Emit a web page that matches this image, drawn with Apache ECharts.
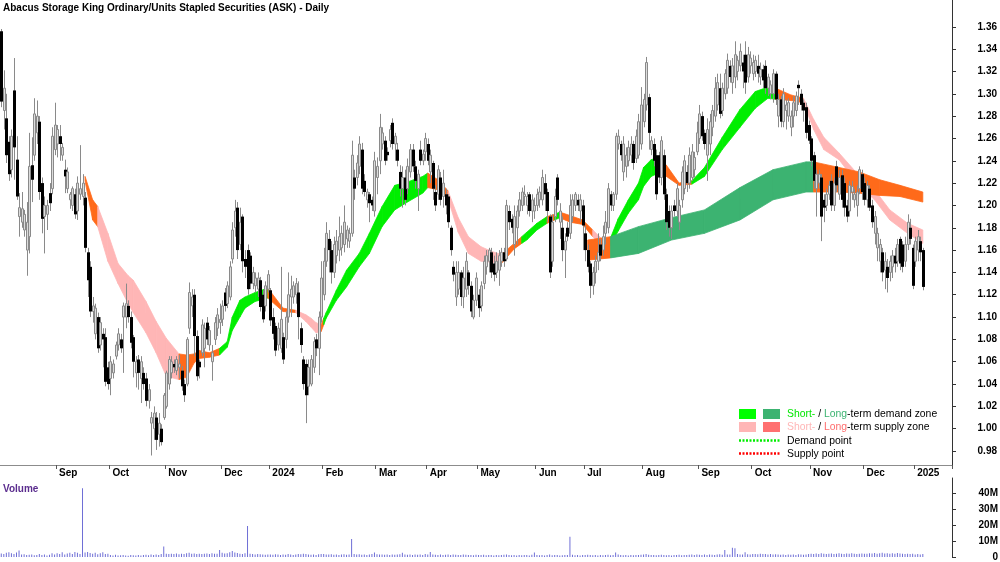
<!DOCTYPE html>
<html lang="en">
<head>
<meta charset="UTF-8">
<title>ASK - Daily</title>
<script src="https://cdn.jsdelivr.net/npm/echarts@6/dist/echarts.min.js"></script>
<style>
  html, body { margin: 0; padding: 0; background: #fff; }
  #target { width: 1000px; height: 562px; }
</style>
</head>
<body>
<div id="target"></div>
<script>
// daily bars, one array per month: [open, close, low, high]
const aug23 = [
  [1.356,1.293,1.288,1.358],[1.285,1.305,1.268,1.321],[1.278,1.245,1.238,1.300],[1.257,1.228,1.222,1.262],
  [1.232,1.262,1.225,1.268],[1.303,1.252,1.223,1.332],[1.241,1.208,1.205,1.262],[1.190,1.198,1.172,1.211],
  [1.185,1.197,1.180,1.212],[1.178,1.192,1.172,1.196],[1.160,1.185,1.137,1.203],[1.172,1.235,1.157,1.265],
  [1.236,1.223,1.203,1.261],[1.245,1.282,1.240,1.296],[1.265,1.280,1.255,1.294],[1.275,1.212,1.205,1.280],
  [1.220,1.188,1.175,1.225],[1.190,1.200,1.157,1.208],[1.192,1.200,1.178,1.205],[1.211,1.202,1.195,1.220],
  [1.215,1.262,1.210,1.270],[1.250,1.272,1.245,1.292]
];
const sep23 = [
  [1.255,1.268,1.243,1.272],[1.262,1.255,1.240,1.272],[1.245,1.252,1.240,1.256],[1.232,1.226,1.211,1.241],
  [1.215,1.230,1.211,1.234],[1.205,1.210,1.197,1.212],[1.200,1.215,1.195,1.217],[1.210,1.192,1.188,1.215],
  [1.195,1.220,1.187,1.226],[1.210,1.215,1.205,1.254],[1.208,1.220,1.200,1.228],[1.207,1.162,1.158,1.212],
  [1.158,1.133,1.118,1.162],[1.145,1.105,1.100,1.150],[1.105,1.110,1.095,1.118],[1.085,1.108,1.080,1.112],
  [1.100,1.072,1.068,1.104],[1.075,1.095,1.070,1.100],[1.085,1.080,1.055,1.090],[1.082,1.042,1.038,1.090],
  [1.055,1.040,1.035,1.060]
];
const oct23 = [
  [1.045,1.060,1.030,1.065],[1.050,1.058,1.045,1.062],[1.065,1.075,1.062,1.078],[1.075,1.085,1.070,1.090],
  [1.080,1.072,1.068,1.085],[1.100,1.110,1.050,1.113],[1.100,1.112,1.090,1.130],[1.110,1.100,1.095,1.115],
  [1.100,1.077,1.072,1.105],[1.082,1.060,1.046,1.084],[1.050,1.060,1.037,1.065],[1.062,1.050,1.035,1.066],
  [1.045,1.060,1.023,1.065],[1.050,1.040,1.035,1.055],[1.045,1.025,1.020,1.050],[1.025,1.035,1.018,1.040],
  [1.005,1.010,0.976,1.015],[1.000,1.014,0.990,1.020],[1.010,0.990,0.981,1.015],[0.995,1.005,0.984,1.014],
  [1.000,0.988,0.985,1.004],[1.010,1.030,1.008,1.032]
];
const nov23 = [
  [1.020,1.050,1.018,1.052],[1.040,1.062,1.035,1.065],[1.050,1.060,1.045,1.065],[1.058,1.055,1.050,1.062],
  [1.052,1.062,1.048,1.065],[1.055,1.058,1.045,1.066],[1.052,1.038,1.034,1.056],[1.040,1.030,1.024,1.044],
  [1.040,1.080,1.038,1.082],[1.090,1.122,1.085,1.131],[1.110,1.118,1.100,1.125],[1.120,1.083,1.065,1.125],
  [1.083,1.047,1.043,1.088],[1.060,1.055,1.045,1.062],[1.068,1.093,1.065,1.098],[1.072,1.090,1.055,1.095],
  [1.095,1.080,1.075,1.100],[1.075,1.088,1.070,1.092],[1.060,1.068,1.043,1.075],[1.080,1.095,1.075,1.100],
  [1.090,1.102,1.083,1.108],[1.095,1.098,1.085,1.112]
];
const dec23 = [
  [1.098,1.110,1.092,1.115],[1.122,1.110,1.105,1.126],[1.112,1.128,1.108,1.132],[1.118,1.145,1.115,1.150],
  [1.152,1.178,1.148,1.185],[1.180,1.195,1.172,1.205],[1.198,1.160,1.152,1.203],[1.165,1.185,1.160,1.198],
  [1.190,1.150,1.140,1.192],[1.152,1.145,1.135,1.160],[1.160,1.125,1.120,1.165],[1.155,1.130,1.125,1.158],
  [1.130,1.140,1.125,1.145],[1.128,1.135,1.122,1.140],[1.125,1.135,1.118,1.140],[1.133,1.109,1.105,1.136],
  [1.120,1.098,1.095,1.124],[1.110,1.128,1.105,1.132],[1.125,1.138,1.122,1.142]
];
const jan24 = [
  [1.124,1.097,1.092,1.126],[1.100,1.085,1.080,1.108],[1.092,1.070,1.065,1.095],[1.075,1.090,1.070,1.095],
  [1.072,1.098,1.068,1.145],[1.082,1.062,1.058,1.086],[1.080,1.100,1.072,1.105],[1.100,1.120,1.095,1.140],
  [1.118,1.125,1.100,1.137],[1.118,1.128,1.112,1.132],[1.120,1.130,1.112,1.135],[1.122,1.100,1.080,1.132],
  [1.090,1.075,1.068,1.095],[1.062,1.040,1.035,1.065],[1.058,1.030,1.005,1.062],[1.038,1.055,1.030,1.062],
  [1.040,1.062,1.038,1.066],[1.055,1.078,1.050,1.082],[1.080,1.072,1.065,1.085],[1.072,1.100,1.048,1.105],
  [1.100,1.135,1.095,1.150]
];
const feb24 = [
  [1.120,1.150,1.115,1.162],[1.150,1.175,1.145,1.185],[1.170,1.160,1.140,1.178],[1.160,1.140,1.130,1.168],
  [1.140,1.165,1.135,1.172],[1.155,1.168,1.148,1.178],[1.160,1.172,1.150,1.190],[1.162,1.175,1.155,1.182],
  [1.165,1.185,1.158,1.200],[1.170,1.178,1.162,1.182],[1.168,1.175,1.162,1.180],[1.175,1.245,1.172,1.258],
  [1.225,1.215,1.205,1.232],[1.225,1.238,1.218,1.245],[1.235,1.255,1.228,1.262],[1.250,1.215,1.210,1.256],
  [1.222,1.212,1.208,1.228],[1.205,1.212,1.198,1.215],[1.210,1.202,1.185,1.212],[1.205,1.200,1.195,1.208],
  [1.195,1.240,1.190,1.248]
];
const mar24 = [
  [1.225,1.235,1.210,1.243],[1.240,1.270,1.228,1.282],[1.255,1.265,1.250,1.270],[1.258,1.240,1.236,1.262],
  [1.248,1.245,1.240,1.252],[1.258,1.268,1.252,1.272],[1.274,1.255,1.250,1.278],[1.255,1.262,1.240,1.265],
  [1.250,1.240,1.235,1.256],[1.230,1.215,1.208,1.236],[1.215,1.225,1.198,1.235],[1.225,1.205,1.200,1.232],
  [1.215,1.235,1.210,1.242],[1.230,1.250,1.225,1.255],[1.250,1.235,1.230,1.255],[1.235,1.222,1.215,1.240],
  [1.215,1.228,1.195,1.232],[1.250,1.240,1.236,1.258],[1.240,1.246,1.236,1.250],[1.248,1.260,1.240,1.265]
];
const apr24 = [
  [1.255,1.240,1.236,1.260],[1.230,1.245,1.220,1.250],[1.238,1.215,1.205,1.240],[1.212,1.200,1.195,1.218],
  [1.210,1.232,1.205,1.236],[1.225,1.205,1.200,1.230],[1.208,1.220,1.198,1.232],[1.210,1.200,1.192,1.215],
  [1.208,1.185,1.180,1.210],[1.180,1.160,1.155,1.182],[1.145,1.138,1.132,1.150],[1.118,1.140,1.110,1.150],
  [1.125,1.140,1.120,1.150],[1.140,1.118,1.110,1.142],[1.118,1.135,1.108,1.145],[1.125,1.150,1.118,1.158],
  [1.140,1.128,1.120,1.142],[1.128,1.105,1.100,1.132],[1.100,1.115,1.098,1.120],[1.115,1.135,1.110,1.140]
];
const may24 = [
  [1.120,1.108,1.100,1.125],[1.110,1.128,1.105,1.132],[1.130,1.150,1.125,1.155],[1.145,1.155,1.138,1.160],
  [1.150,1.160,1.140,1.162],[1.158,1.140,1.135,1.162],[1.148,1.138,1.132,1.155],[1.140,1.150,1.135,1.158],
  [1.142,1.155,1.128,1.160],[1.150,1.158,1.145,1.162],[1.158,1.150,1.145,1.162],[1.152,1.200,1.150,1.205],
  [1.195,1.185,1.178,1.200],[1.188,1.180,1.175,1.192],[1.165,1.190,1.155,1.200],[1.180,1.195,1.165,1.200],
  [1.195,1.205,1.190,1.212],[1.200,1.212,1.195,1.216],[1.208,1.210,1.200,1.218],[1.200,1.208,1.192,1.212],
  [1.210,1.195,1.190,1.212],[1.195,1.205,1.185,1.210],[1.195,1.200,1.188,1.207]
];
const jun24 = [
  [1.200,1.210,1.195,1.215],[1.205,1.212,1.198,1.217],[1.205,1.225,1.200,1.232],[1.220,1.210,1.195,1.228],
  [1.212,1.195,1.185,1.215],[1.190,1.140,1.135,1.192],[1.150,1.185,1.145,1.192],[1.190,1.208,1.185,1.215],
  [1.225,1.205,1.200,1.228],[1.185,1.195,1.170,1.202],[1.180,1.160,1.150,1.190],[1.160,1.168,1.135,1.175],
  [1.180,1.172,1.168,1.185],[1.175,1.200,1.170,1.210],[1.190,1.205,1.185,1.210],[1.200,1.210,1.195,1.212],
  [1.205,1.200,1.195,1.210],[1.195,1.205,1.185,1.210],[1.200,1.182,1.160,1.205]
];
const jul24 = [
  [1.175,1.160,1.150,1.182],[1.160,1.145,1.140,1.165],[1.148,1.128,1.117,1.150],[1.128,1.140,1.120,1.145],
  [1.140,1.150,1.130,1.155],[1.150,1.158,1.142,1.175],[1.165,1.155,1.150,1.170],[1.160,1.172,1.155,1.182],
  [1.175,1.185,1.165,1.195],[1.180,1.215,1.175,1.220],[1.210,1.200,1.195,1.213],[1.200,1.210,1.195,1.212],
  [1.210,1.262,1.205,1.265],[1.255,1.262,1.250,1.268],[1.255,1.245,1.240,1.258],[1.230,1.255,1.222,1.262],
  [1.235,1.245,1.225,1.252],[1.240,1.252,1.235,1.258],[1.245,1.255,1.238,1.262],[1.255,1.238,1.232,1.258],
  [1.242,1.262,1.238,1.268],[1.245,1.275,1.242,1.282],[1.255,1.290,1.250,1.306]
];
const aug24 = [
  [1.275,1.295,1.270,1.300],[1.290,1.328,1.285,1.333],[1.297,1.265,1.250,1.300],[1.250,1.258,1.245,1.262],
  [1.255,1.240,1.235,1.260],[1.245,1.210,1.205,1.250],[1.245,1.225,1.220,1.248],[1.225,1.258,1.218,1.262],
  [1.245,1.210,1.205,1.250],[1.210,1.185,1.178,1.215],[1.195,1.180,1.172,1.200],[1.180,1.195,1.170,1.200],
  [1.200,1.195,1.190,1.205],[1.195,1.215,1.190,1.220],[1.185,1.200,1.178,1.205],[1.205,1.230,1.198,1.235],
  [1.215,1.240,1.210,1.245],[1.230,1.220,1.212,1.236],[1.220,1.245,1.215,1.252],[1.225,1.248,1.222,1.255],
  [1.232,1.243,1.225,1.248],[1.248,1.265,1.245,1.275]
];
const sep24 = [
  [1.260,1.282,1.255,1.290],[1.280,1.262,1.258,1.284],[1.265,1.255,1.250,1.268],[1.245,1.268,1.222,1.278],
  [1.255,1.275,1.245,1.282],[1.270,1.285,1.262,1.290],[1.280,1.305,1.275,1.315],[1.290,1.310,1.285,1.318],
  [1.305,1.282,1.278,1.318],[1.285,1.305,1.280,1.310],[1.300,1.318,1.295,1.322],[1.305,1.330,1.300,1.336],
  [1.325,1.315,1.310,1.330],[1.310,1.325,1.300,1.332],[1.315,1.335,1.305,1.347],[1.320,1.330,1.312,1.334],
  [1.325,1.338,1.320,1.345],[1.328,1.320,1.305,1.335],[1.335,1.310,1.300,1.347],[1.315,1.335,1.310,1.342],
  [1.325,1.332,1.318,1.338]
];
const oct24 = [
  [1.318,1.328,1.312,1.335],[1.320,1.330,1.315,1.334],[1.325,1.318,1.310,1.335],[1.315,1.322,1.308,1.328],
  [1.322,1.312,1.305,1.326],[1.325,1.305,1.300,1.330],[1.305,1.315,1.298,1.318],[1.300,1.308,1.295,1.312],
  [1.300,1.318,1.292,1.322],[1.318,1.295,1.290,1.320],[1.280,1.295,1.270,1.300],[1.295,1.275,1.270,1.298],
  [1.275,1.300,1.270,1.305],[1.285,1.290,1.268,1.295],[1.280,1.292,1.275,1.296],[1.270,1.280,1.262,1.285],
  [1.280,1.292,1.270,1.298],[1.285,1.298,1.280,1.302],[1.308,1.305,1.290,1.312],[1.300,1.290,1.285,1.304],
  [1.292,1.285,1.275,1.295],[1.288,1.265,1.260,1.292],[1.272,1.258,1.255,1.276]
];
const nov24 = [
  [1.260,1.240,1.235,1.262],[1.245,1.222,1.215,1.248],[1.215,1.228,1.190,1.232],[1.220,1.228,1.215,1.232],
  [1.225,1.190,1.168,1.228],[1.205,1.198,1.185,1.210],[1.200,1.210,1.195,1.215],[1.210,1.218,1.205,1.222],
  [1.222,1.200,1.195,1.228],[1.200,1.220,1.195,1.225],[1.235,1.218,1.212,1.240],[1.210,1.225,1.205,1.232],
  [1.227,1.205,1.198,1.232],[1.220,1.198,1.190,1.225],[1.200,1.190,1.185,1.205],[1.195,1.218,1.190,1.222],
  [1.212,1.217,1.205,1.222],[1.205,1.210,1.198,1.215],[1.200,1.212,1.190,1.218],[1.215,1.232,1.210,1.235],
  [1.228,1.212,1.205,1.232]
];
const dec24 = [
  [1.220,1.205,1.200,1.225],[1.205,1.218,1.198,1.222],[1.215,1.198,1.195,1.218],[1.200,1.185,1.180,1.205],
  [1.175,1.190,1.165,1.195],[1.162,1.175,1.150,1.180],[1.150,1.165,1.140,1.170],[1.158,1.140,1.132,1.162],
  [1.142,1.150,1.125,1.158],[1.145,1.135,1.122,1.152],[1.140,1.150,1.132,1.155],[1.145,1.155,1.135,1.160],
  [1.155,1.148,1.140,1.162],[1.150,1.165,1.145,1.170],[1.170,1.148,1.142,1.172],[1.165,1.145,1.140,1.168],
  [1.150,1.165,1.145,1.172],[1.165,1.185,1.160,1.192],[1.180,1.170,1.165,1.188],[1.162,1.128,1.125,1.165]
];
const jan25 = [
  [1.150,1.168,1.145,1.172],[1.160,1.172,1.150,1.178],[1.168,1.158,1.150,1.172],[1.160,1.127,1.124,1.162]
];

// daily volume, millions
const volume = [
  2.2,1.8,2.6,3.0,2.4,1.9,2.8,4.1,1.5,1.7,1.2,1.4,1.6,1.1,1.3,1.8,1.2,1.5,1.0,1.4,2.3,1.6,
  2.4,1.8,2.9,1.6,2.2,2.6,1.9,3.1,2.7,1.8,43.0,2.8,3.2,2.5,2.0,2.6,1.7,2.4,2.9,1.9,2.1,
  1.2,1.0,1.4,0.9,1.1,1.3,1.0,0.8,1.2,1.1,0.9,1.3,1.0,1.2,1.4,1.1,1.6,1.3,1.5,1.2,1.8,6.5,
  2.0,1.8,2.1,1.9,2.2,1.7,2.0,1.8,2.3,2.6,2.0,2.2,1.9,2.1,1.8,2.0,2.2,1.9,2.4,2.1,2.0,4.3,
  2.6,2.2,2.4,3.0,3.7,2.8,2.5,2.1,1.9,2.3,19.4,2.0,1.8,1.6,1.9,1.7,1.5,1.4,1.6,
  1.6,1.4,1.7,1.5,1.3,1.6,1.4,1.8,1.5,1.2,1.6,1.9,1.7,2.1,1.8,1.5,1.4,1.6,1.3,1.7,1.9,
  1.8,1.6,1.5,1.7,1.4,1.6,1.3,1.5,1.7,1.4,1.6,11.3,1.9,1.5,1.7,1.4,1.6,1.3,1.5,1.8,2.8,
  1.7,1.5,1.6,1.4,1.5,1.3,1.6,1.4,1.5,1.7,2.6,1.5,1.4,1.6,1.3,1.5,1.4,1.6,1.2,1.8,
  1.6,3.2,1.5,1.4,1.3,1.5,1.2,1.4,1.6,1.3,1.5,1.4,1.2,1.3,1.5,1.4,1.2,1.3,1.1,1.4,
  1.3,1.2,1.4,1.1,1.3,1.2,1.0,1.3,1.1,1.2,1.4,1.6,1.2,1.1,1.3,1.0,1.2,1.1,1.3,1.2,1.0,1.4,2.8,
  1.3,1.1,1.2,1.0,1.2,1.5,1.1,1.3,1.2,1.0,1.1,1.3,1.2,12.7,1.4,1.1,1.2,1.0,1.3,
  1.2,1.4,1.3,1.1,1.2,1.0,1.3,1.1,1.2,1.4,1.1,1.3,2.8,1.5,1.2,1.1,1.3,1.0,1.2,1.1,1.3,1.2,1.4,
  1.5,1.8,1.4,1.2,1.3,1.1,1.2,1.4,1.3,1.1,1.2,1.0,1.3,1.2,1.4,1.1,1.3,1.2,1.4,1.5,1.3,1.6,
  1.4,1.3,1.5,1.2,1.6,1.4,1.3,1.5,1.7,1.4,4.4,1.6,1.5,5.8,5.5,1.8,1.6,1.5,3.0,1.7,1.6,
  1.8,1.9,1.7,2.0,1.8,1.9,1.6,1.8,1.5,1.7,1.6,1.4,1.5,1.3,1.6,1.4,1.5,1.3,1.7,1.5,1.4,1.6,1.8,
  2.0,1.8,2.2,1.9,2.3,2.1,1.8,2.0,2.2,1.9,2.1,2.4,2.0,1.9,2.2,2.0,2.3,2.1,1.9,2.0,2.2,
  2.1,2.0,2.3,2.2,2.5,2.1,2.4,2.6,2.2,2.3,2.0,2.4,2.1,2.5,2.2,2.0,1.8,2.1,1.9,2.0,
  1.6,1.8,1.5,1.9
];

// short-term zone: bar index, lower edge, upper edge, zone of the stretch that follows
const shortIdx  = [33, 36, 38, 42, 46, 50, 52, 57, 61, 65, 70, 73, 76, 78, 82, 86, 89, 91, 94, 96, 100, 105, 111, 116, 120, 122, 124, 126, 127, 128, 132, 136, 141, 145, 150, 155, 160, 166, 168, 172, 176, 180, 184, 189, 193, 197, 202, 205, 207, 211, 215, 218, 220, 224, 229, 233, 237, 240, 243, 247, 251, 253, 256, 259, 262, 267, 272, 277, 284, 291, 297, 302, 305, 311, 316, 320, 324, 330, 337, 344, 350, 357, 363];
const shortLo   = [1.222, 1.187, 1.181, 1.150, 1.130, 1.112, 1.104, 1.086, 1.068, 1.047, 1.044, 1.046, 1.059, 1.063, 1.064, 1.066, 1.073, 1.088, 1.100, 1.108, 1.114, 1.117, 1.105, 1.104, 1.096, 1.091, 1.086, 1.087, 1.093, 1.099, 1.115, 1.127, 1.145, 1.157, 1.181, 1.196, 1.203, 1.211, 1.216, 1.214, 1.206, 1.176, 1.157, 1.150, 1.149, 1.148, 1.161, 1.166, 1.169, 1.178, 1.184, 1.187, 1.189, 1.185, 1.183, 1.172, 1.163, 1.164, 1.177, 1.193, 1.205, 1.217, 1.226, 1.229, 1.226, 1.218, 1.219, 1.226, 1.250, 1.270, 1.287, 1.296, 1.295, 1.294, 1.292, 1.268, 1.250, 1.241, 1.220, 1.205, 1.187, 1.175, 1.166];
const shortHi   = [1.226, 1.205, 1.199, 1.175, 1.148, 1.137, 1.133, 1.114, 1.096, 1.081, 1.067, 1.066, 1.067, 1.070, 1.068, 1.072, 1.078, 1.100, 1.115, 1.118, 1.122, 1.126, 1.108, 1.106, 1.102, 1.099, 1.095, 1.093, 1.099, 1.104, 1.124, 1.142, 1.157, 1.175, 1.199, 1.218, 1.221, 1.226, 1.229, 1.223, 1.213, 1.189, 1.172, 1.163, 1.159, 1.156, 1.166, 1.172, 1.176, 1.184, 1.190, 1.192, 1.194, 1.191, 1.187, 1.178, 1.169, 1.171, 1.188, 1.205, 1.220, 1.234, 1.241, 1.243, 1.236, 1.220, 1.222, 1.234, 1.261, 1.286, 1.302, 1.306, 1.305, 1.299, 1.296, 1.277, 1.261, 1.247, 1.229, 1.214, 1.196, 1.184, 1.178];
const shortZone = ['o','o','p','p','p','p','p','p','p','p','o','o','o','o','o','g','g','g','g','g','g','o','o','p','p','p','p','o','g','g','g','g','g','g','g','g','g','g','o','o','p','p','p','p','p','o','o','g','g','g','o','g','o','o','o','p','p','g','g','g','g','g','g','o','o','o','g','g','g','g','g','g','o','o','p','p','p','p','p','p','p','p',''];

// long-term zone
const longIdx  = [231, 240, 251, 264, 277, 291, 304, 317, 320, 330, 338, 346, 354, 363];
const longLo   = [1.151, 1.153, 1.157, 1.169, 1.175, 1.187, 1.205, 1.212, 1.212, 1.212, 1.211, 1.209, 1.208, 1.203];
const longHi   = [1.169, 1.172, 1.181, 1.189, 1.196, 1.216, 1.232, 1.239, 1.239, 1.234, 1.230, 1.223, 1.218, 1.212];
const longZone = ['o','d','d','d','d','d','d','d','o','o','o','o','o',''];

const priceTicks = [0.98, 1.00, 1.02, 1.04, 1.06, 1.08, 1.10, 1.12, 1.14, 1.16, 1.18, 1.20, 1.22, 1.24, 1.26, 1.28, 1.30, 1.32, 1.34, 1.36];
const volumeTicks = [0, 10, 20, 30, 40];
const monthNames = ['Jan','Feb','Mar','Apr','May','Jun','Jul','Aug','Sep','Oct','Nov','Dec'];
const holidays = ['2023-12-25','2023-12-26','2024-01-01','2024-01-26','2024-03-29','2024-04-01','2024-04-25','2024-06-10','2024-12-25','2024-12-26','2025-01-01'];

const zoneColors = { g: '#00ee00', d: '#3cb371', p: '#ffb6b6', o: '#ff6a1a' };
const FONT = '"Liberation Sans", Arial, sans-serif';

const ohlc = [].concat(aug23, sep23, oct23, nov23, dec23, jan24, feb24, mar24, apr24,
  may24, jun24, jul24, aug24, sep24, oct24, nov24, dec24, jan25);

// trading days from 2 Aug 2023
const dates = [];
const day = new Date(Date.UTC(2023, 7, 2));
while (dates.length < ohlc.length) {
  const s = day.toISOString().slice(0, 10);
  const wd = day.getUTCDay();
  if (wd !== 0 && wd !== 6 && holidays.indexOf(s) < 0) dates.push(s);
  day.setUTCDate(day.getUTCDate() + 1);
}
const cats = dates.slice();
for (let k = 0; k < 11; k++) cats.push('pad' + k);   // empty room right of the last bar

const monthStart = new Set();
for (let i = 1; i < dates.length; i++) {
  if (dates[i].slice(5, 7) !== dates[i - 1].slice(5, 7)) monthStart.add(i);
}
const isMonthStart = (index) => monthStart.has(index);

function renderCandle(params, api) {
  const i = api.value(0);
  const o = api.value(1), c = api.value(2), l = api.value(3), h = api.value(4);
  const pH = api.coord([i, h]);
  const pL = api.coord([i, l]);
  const pO = api.coord([i, o]);
  const pC = api.coord([i, c]);
  const cx = Math.round(pH[0]);
  const y1 = Math.min(pO[1], pC[1]);
  const y2 = Math.max(pO[1], pC[1]);
  const up = c >= o;
  const body = up
    ? { type: 'rect', shape: { x: cx - 0.5, y: y1, width: 2, height: Math.max(y2 - y1, 1) },
        style: { fill: '#dcdcdc', stroke: '#8a8a8a', lineWidth: 1 } }
    : { type: 'rect', shape: { x: cx - 1, y: y1, width: 3, height: Math.max(y2 - y1, 1) },
        style: { fill: '#000' } };
  return {
    type: 'group',
    children: [
      { type: 'line', shape: { x1: cx + 0.5, y1: pH[1], x2: cx + 0.5, y2: pL[1] },
        style: { stroke: '#8a8a8a', lineWidth: 1 } },
      body
    ]
  };
}

function bandData(idx, lo, hi) {
  const out = [];
  for (let k = 0; k < idx.length - 1; k++) {
    out.push([idx[k], lo[k], hi[k], idx[k + 1], lo[k + 1], hi[k + 1]]);
  }
  return out;
}

function bandRenderer(zone) {
  return function (params, api) {
    const col = zoneColors[zone[params.dataIndex]];
    const a0 = api.coord([api.value(0), api.value(1)]);
    const b0 = api.coord([api.value(0), api.value(2)]);
    const b1 = api.coord([api.value(3), api.value(5)]);
    const a1 = api.coord([api.value(3), api.value(4)]);
    return {
      type: 'polygon',
      shape: { points: [a0, b0, b1, a1] },
      style: { fill: col, stroke: col, lineWidth: 0.8 }
    };
  };
}

const legendRows = [
  { y: 414, text: '{a|Short-} / {b|Long}-term demand zone', a: '#00e600', b: '#3cb371' },
  { y: 427, text: '{a|Short-} / {b|Long}-term supply zone', a: '#ffb6b6', b: '#ff6e6e' }
];

const graphics = [
  { type: 'text', x: 3, y: 8, style: { text: 'Abacus Storage King Ordinary/Units Stapled Securities (ASK) - Daily',
      font: 'bold 10px ' + FONT, fill: '#000', verticalAlign: 'middle' } },
  { type: 'text', x: 3, y: 489.5, style: { text: 'Volume', font: 'bold 10px ' + FONT,
      fill: '#5b2d8e', verticalAlign: 'middle' } },
  { type: 'rect', shape: { x: 739, y: 409, width: 17, height: 10 }, style: { fill: '#00ff00' } },
  { type: 'rect', shape: { x: 763, y: 409, width: 17, height: 10 }, style: { fill: '#3cb371' } },
  { type: 'rect', shape: { x: 739, y: 422, width: 17, height: 10 }, style: { fill: '#ffb6b6' } },
  { type: 'rect', shape: { x: 763, y: 422, width: 17, height: 10 }, style: { fill: '#ff7070' } },
  { type: 'line', shape: { x1: 739, y1: 440.5, x2: 781, y2: 440.5 },
    style: { stroke: '#00ee00', lineWidth: 2.5, lineDash: [2, 1.5] } },
  { type: 'line', shape: { x1: 739, y1: 453.5, x2: 781, y2: 453.5 },
    style: { stroke: '#ff0000', lineWidth: 2.5, lineDash: [2, 1.5] } },
  { type: 'text', x: 787, y: 441, style: { text: 'Demand point', font: '10.4px ' + FONT, fill: '#000', verticalAlign: 'middle' } },
  { type: 'text', x: 787, y: 454, style: { text: 'Supply point', font: '10.4px ' + FONT, fill: '#000', verticalAlign: 'middle' } }
];
legendRows.forEach(r => {
  graphics.push({ type: 'text', x: 787, y: r.y, style: {
    text: r.text, fontSize: 10.4, fontFamily: FONT, fill: '#000', verticalAlign: 'middle',
    rich: { a: { fill: r.a, fontSize: 10.4, fontFamily: FONT }, b: { fill: r.b, fontSize: 10.4, fontFamily: FONT } }
  } });
});

const option = {
  animation: false,
  backgroundColor: '#fff',
  grid: [
    { left: 0, right: 48, top: 0, height: 465, outerBoundsMode: 'none', containLabel: false },
    { left: 0, right: 48, top: 478, height: 79, outerBoundsMode: 'none', containLabel: false }
  ],
  xAxis: [
    {
      type: 'category', gridIndex: 0, data: cats, boundaryGap: true,
      axisLine: { show: true, lineStyle: { color: '#8c8c8c', width: 1 } },
      axisTick: { show: true, interval: isMonthStart, length: 4, lineStyle: { color: '#555' } },
      axisLabel: {
        show: true, interval: isMonthStart, align: 'left', margin: 3, padding: [0, 0, 0, 2],
        fontSize: 10, fontWeight: 'bold', fontFamily: FONT, color: '#000',
        formatter: (v) => {
          const m = +v.slice(5, 7);
          return m === 1 ? v.slice(0, 4) : monthNames[m - 1];
        }
      },
      splitLine: { show: false }
    },
    {
      type: 'category', gridIndex: 1, data: cats, boundaryGap: true,
      axisLine: { show: false }, axisTick: { show: false }, axisLabel: { show: false }, splitLine: { show: false }
    }
  ],
  yAxis: [
    {
      type: 'value', gridIndex: 0, position: 'right', min: 0.9675, max: 1.384,
      axisLine: { show: true, lineStyle: { color: '#333' } },
      axisTick: { show: true, length: 4, customValues: priceTicks, lineStyle: { color: '#333' } },
      axisLabel: { customValues: priceTicks, formatter: (v) => v.toFixed(2), align: 'right', margin: 45,
        fontSize: 10, fontWeight: 'bold', fontFamily: FONT, color: '#000' },
      splitLine: { show: false }
    },
    {
      type: 'value', gridIndex: 1, position: 'right', min: 0, max: 49.375,
      axisLine: { show: true, lineStyle: { color: '#333' } },
      axisTick: { show: true, length: 4, customValues: volumeTicks, lineStyle: { color: '#333' } },
      axisLabel: { customValues: volumeTicks, formatter: (v) => (v === 0 ? '0' : v + 'M'), align: 'right', margin: 46,
        fontSize: 10, fontWeight: 'bold', fontFamily: FONT, color: '#000' },
      splitLine: { show: false }
    }
  ],
  series: [
    {
      type: 'custom', name: 'short', xAxisIndex: 0, yAxisIndex: 0, z: 1, clip: true,
      renderItem: bandRenderer(shortZone), data: bandData(shortIdx, shortLo, shortHi),
      encode: { x: [0, 3], y: [1, 2, 4, 5] }
    },
    {
      type: 'custom', name: 'long', xAxisIndex: 0, yAxisIndex: 0, z: 1, clip: true,
      renderItem: bandRenderer(longZone), data: bandData(longIdx, longLo, longHi),
      encode: { x: [0, 3], y: [1, 2, 4, 5] }
    },
    {
      type: 'custom', name: 'price', xAxisIndex: 0, yAxisIndex: 0, z: 3, clip: true,
      renderItem: renderCandle,
      data: ohlc.map((b, i) => [i, b[0], b[1], b[2], b[3]]),
      encode: { x: 0, y: [1, 2, 3, 4] }
    },
    {
      type: 'bar', name: 'volume', xAxisIndex: 1, yAxisIndex: 1, barWidth: 1,
      itemStyle: { color: '#6f6fd6' }, data: volume
    }
  ],
  graphic: graphics
};

echarts.init(document.getElementById('target')).setOption(option);
</script>
</body>
</html>
